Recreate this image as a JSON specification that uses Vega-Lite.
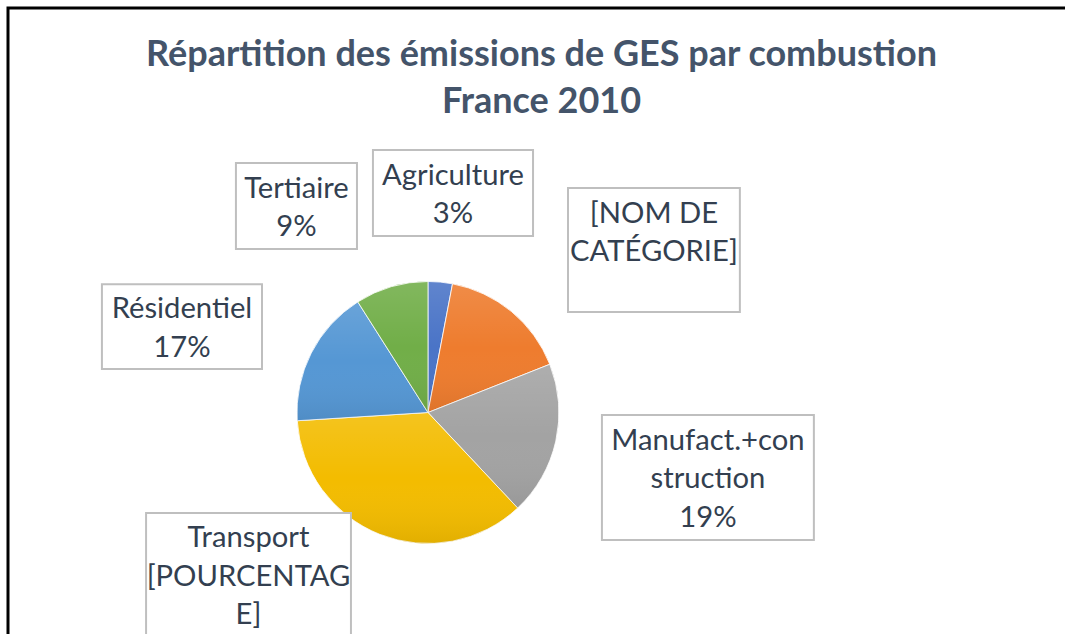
{
  "$schema": "https://vega.github.io/schema/vega-lite/v6.json",
  "autosize": "none",
  "width": 1057,
  "height": 626,
  "padding": {"left": 8, "top": 8, "right": 0, "bottom": 0},
  "background": "white",
  "config": {
    "view": {"stroke": "black", "strokeWidth": 3, "strokeDash": [1057, 1683, 626]}
  },
  "title": {
    "text": ["Répartition des émissions de GES par combustion", "France 2010"],
    "anchor": "middle",
    "frame": "group",
    "offset": -113,
    "dx": 5,
    "font": "Lato",
    "fontSize": 36,
    "fontWeight": "bold",
    "color": "#44546a",
    "lineHeight": 47
  },
  "data": {
    "values": [
      {"category": "Agriculture", "value": 3, "label": "Agriculture\n3%"},
      {"category": "[NOM DE CATÉGORIE]", "value": 16, "label": "[NOM DE\nCATÉGORIE]\n "},
      {"category": "Manufact.+construction", "value": 19, "label": "Manufact.+con\nstruction\n19%"},
      {"category": "Transport", "value": 36, "label": "Transport\n[POURCENTAG\nE]"},
      {"category": "Résidentiel", "value": 17, "label": "Résidentiel\n17%"},
      {"category": "Tertiaire", "value": 9, "label": "Tertiaire\n9%"}
    ]
  },
  "transform": [
    {"calculate": "indexof(['Agriculture','[NOM DE CATÉGORIE]','Manufact.+construction','Transport','Résidentiel','Tertiaire'], datum.category)", "as": "k"},
    {"calculate": "[0.191, 1.725, 2.137, -1.370, -1.878, -1.004][datum.k]", "as": "lx"},
    {"calculate": "[1.676, 1.240, -0.496, -1.240, 0.656, 1.576][datum.k]", "as": "ly"},
    {"calculate": "[0.611, 0.656, 0.809, 0.782, 0.611, 0.462][datum.k]", "as": "hw"},
    {"calculate": "[0.328, 0.473, 0.477, 0.473, 0.324, 0.328][datum.k]", "as": "hh"},
    {"calculate": "datum.lx - datum.hw", "as": "bx1"},
    {"calculate": "datum.lx + datum.hw", "as": "bx2"},
    {"calculate": "datum.ly - datum.hh", "as": "by1"},
    {"calculate": "datum.ly + datum.hh", "as": "by2"},
    {"calculate": "datum.ly - 0.015 + (length(split(datum.label, '\\n')) - 1) * 0.1469", "as": "ty"}
  ],
  "layer": [
    {
      "mark": {"type": "arc", "outerRadius": 131, "stroke": "#ffffff", "strokeWidth": 0.8},
      "encoding": {
        "x": {"datum": 0, "type": "quantitative", "scale": {"domain": [-3.206, 4.863], "nice": false, "zero": false}, "axis": null},
        "y": {"datum": 0, "type": "quantitative", "scale": {"domain": [-1.691, 3.088], "nice": false, "zero": false}, "axis": null},
        "theta": {"field": "value", "type": "quantitative", "stack": true},
        "order": {"field": "k", "type": "quantitative"},
        "color": {
          "field": "category",
          "type": "nominal",
          "scale": {
            "domain": ["Agriculture", "[NOM DE CATÉGORIE]", "Manufact.+construction", "Transport", "Résidentiel", "Tertiaire"],
            "range": ["#4a74c7", "#ee7c2e", "#a3a3a3", "#f3bc00", "#5597d4", "#71ae48"]
          },
          "legend": null
        }
      }
    },
    {
      "mark": {
        "type": "arc",
        "outerRadius": 131,
        "fill": {
          "gradient": "linear", "x1": 0, "y1": 0, "x2": 0, "y2": 1,
          "stops": [
            {"offset": 0, "color": "rgba(255,255,255,0.12)"},
            {"offset": 0.5, "color": "rgba(255,255,255,0)"},
            {"offset": 1, "color": "rgba(0,0,0,0.07)"}
          ]
        }
      },
      "encoding": {
        "x": {"datum": 0, "type": "quantitative"},
        "y": {"datum": 0, "type": "quantitative"},
        "theta": {"field": "value", "type": "quantitative", "stack": true},
        "order": {"field": "k", "type": "quantitative"}
      }
    },
    {
      "mark": {"type": "rect", "fill": "white", "stroke": "#bfbfbf", "strokeWidth": 2},
      "encoding": {
        "x": {"field": "bx1", "type": "quantitative"},
        "x2": {"field": "bx2"},
        "y": {"field": "by1", "type": "quantitative"},
        "y2": {"field": "by2"}
      }
    },
    {
      "mark": {"type": "text", "font": "Lato", "fontSize": 29.2, "color": "#333f50", "align": "center", "baseline": "middle", "lineBreak": "\n", "lineHeight": 38.5},
      "encoding": {
        "x": {"field": "lx", "type": "quantitative"},
        "y": {"field": "ty", "type": "quantitative"},
        "text": {"field": "label", "type": "nominal"}
      }
    }
  ]
}
